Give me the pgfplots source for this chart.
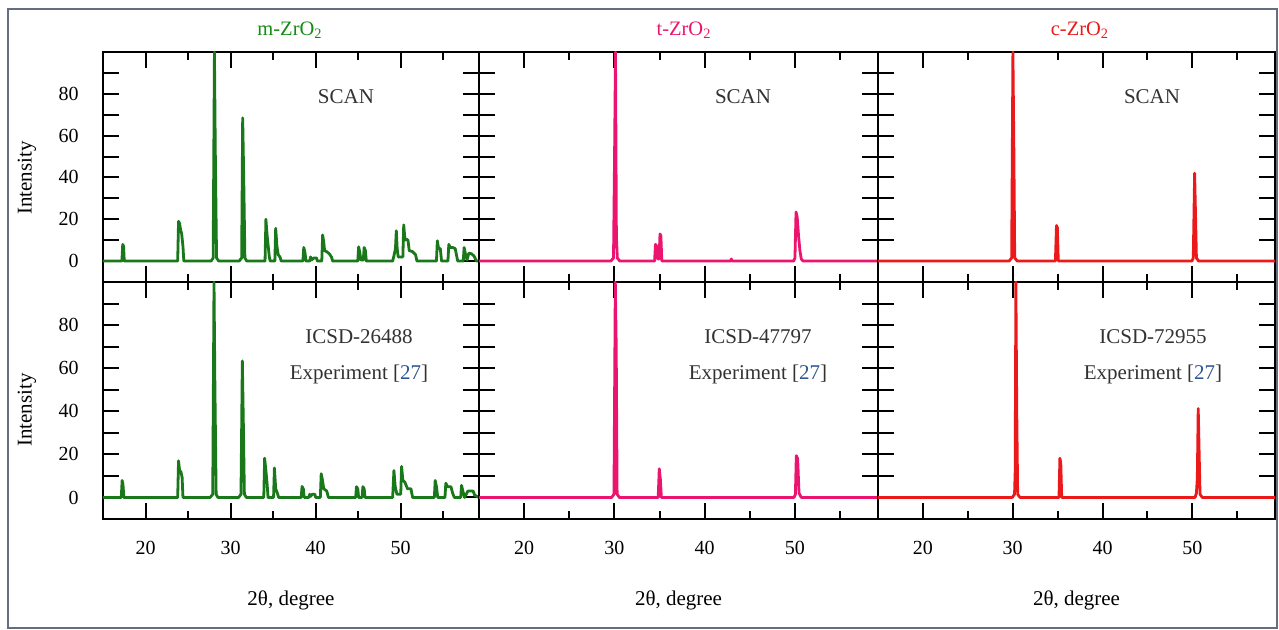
\documentclass[border=0pt]{standalone}
\usepackage{fontspec}
\setmainfont{Liberation Serif}
\usepackage{pgfplots}
\pgfplotsset{compat=1.18}
\usepackage{pgfplotstable}

\definecolor{mgreen}{RGB}{25,120,25}
\definecolor{tgreen}{RGB}{20,140,20}
\definecolor{tpink}{RGB}{235,20,110}
\definecolor{cred}{RGB}{235,25,25}
\definecolor{refblue}{RGB}{45,85,150}
\definecolor{txtgray}{RGB}{50,50,50}
\definecolor{borderc}{RGB}{100,110,130}

\pgfplotstableread{
x y
15 0
17.22 0
17.32 8
17.42 7
17.5 0
23.78 0
23.88 19
24.0 18
24.12 15
24.25 13
24.4 7
24.5 0
27.7 0
27.95 1.5
28.1 100
28.2 53
28.35 1.5
28.6 0
31.0 0
31.3 1.5
31.42 68.5
31.55 38
31.68 1.5
31.9 0
34.05 0
34.15 20
34.3 12
34.45 6
34.55 2
34.65 0
35.2 0
35.3 15.7
35.45 7
35.6 3
35.8 2
35.95 0
38.5 0
38.6 6.5
38.75 4
38.85 0
39.3 0
39.4 2
39.5 0.5
39.8 1.5
40.1 1.5
40.2 0
40.72 0
40.82 12.5
40.95 9
41.05 5
41.3 4.5
41.6 3.5
41.85 2
42.0 0
44.95 0
45.05 6.8
45.2 4
45.3 0.5
45.6 0.5
45.7 6.5
45.85 5
45.95 0
49.05 0
49.2 2.5
49.38 6
49.48 14.5
49.58 6
49.7 2
50.25 2
50.35 17.3
50.5 10
50.65 10.5
50.85 10
51.0 5
51.4 4.5
51.75 3
51.9 0
54.2 0
54.3 9.7
54.45 6
54.65 6
54.8 0
55.55 0
55.65 8
55.8 6.5
56.1 6.5
56.4 6
56.6 2
56.7 0
57.35 0
57.45 6.5
57.6 3.5
57.8 0.5
58.0 3.8
58.3 3.5
58.6 2.5
58.9 0
59.2 0
}\mscan

\pgfplotstableread{
x y
15 0
17.15 0
17.25 7.9
17.35 6
17.45 0
23.78 0
23.88 17
24.0 12.5
24.15 12
24.3 9.4
24.4 0
27.6 0
27.9 1.5
28.05 100
28.15 53.4
28.3 1.5
28.5 0
30.95 0
31.22 1.5
31.38 63.4
31.5 34
31.62 1.5
31.85 0
33.9 0
34.0 18.2
34.15 12.5
34.3 6
34.4 0
35.05 0
35.15 13.7
35.3 4
35.5 2
35.65 0
38.3 0
38.4 5.1
38.55 4
38.65 0
39.2 0
39.3 1.5
39.4 0.5
39.6 1.5
39.9 1.5
40.0 0
40.55 0
40.65 11
40.8 8
40.95 4
41.3 3
41.5 0
44.7 0
44.8 5
44.95 4
45.05 0
45.45 0
45.55 5
45.7 4
45.8 0
49.05 0
49.2 12.5
49.35 5
49.55 1.5
50.0 1.5
50.1 14.4
50.25 8
50.5 7
50.8 4
51.2 4
51.4 0
53.95 0
54.05 7.9
54.2 5
54.35 0
55.2 0
55.3 6.6
55.5 5
55.9 5
56.1 2
56.3 0
57.05 0
57.15 5.6
57.3 3
57.5 0
57.9 3
58.5 3
58.7 1
59.2 0
}\micsd

\pgfplotstableread{
x y
15 0
29.6 0
29.9 1.5
30.02 52
30.12 100
30.22 12
30.32 1.5
30.6 0
34.45 0
34.55 8
34.7 7
34.8 1
34.95 1
35.05 13
35.15 12
35.25 0
42.85 0
42.95 1
43.05 0
49.85 0
50.0 1.5
50.12 23.5
50.25 21
50.4 12
50.55 5
50.7 1
50.9 0
59.2 0
}\tscan

\pgfplotstableread{
x y
15 0
29.7 0
29.95 1.5
30.1 100
30.2 70
30.3 1.5
30.55 0
34.85 0
34.97 13.3
35.1 8
35.2 0
49.9 0
50.05 1.5
50.15 19.4
50.3 18
50.45 2
50.7 0
59.2 0
}\ticsd

\pgfplotstableread{
x y
15 0
29.6 0
29.88 1.5
30.02 100
30.12 56
30.22 1.5
30.5 0
34.75 0
34.87 17
34.97 16
35.07 0
49.95 0
50.1 1.5
50.25 42
50.35 22
50.45 1.5
50.7 0
59.2 0
}\cscan

\pgfplotstableread{
x y
15 0
29.95 0
30.2 1.5
30.27 11.7
30.35 100
30.45 38.7
30.55 1.5
30.8 0
35.15 0
35.25 18.2
35.35 16
35.45 0
50.3 0
50.45 2
50.55 9
50.65 41.3
50.75 21.4
50.85 1.5
51.1 0
59.2 0
}\cicsd

\pgfplotsset{
  panel/.style={
    scale only axis,
    anchor=south west,
    xmin=15, xmax=59.2, ymin=-10, ymax=100,
    axis line style={line width=1pt, black},
    tick style={line width=1pt, black},
    tick align=inside,
    xtick pos=both, ytick pos=both,
    xtick={20,30,40,50}, minor xtick={25,35,45,55},
    ytick={0,10,20,30,40,50,60,70,80,90},
    major tick length=8pt, minor tick length=4pt,
    xticklabels={}, yticklabels={},
    /pgf/number format/assume math mode=true,
    ticklabel style={font=\fontsize{10}{12}\selectfont, text=black},
    yticklabel style={xshift=-8.7pt},
    xticklabel style={yshift=-7.7pt},
  },
  ylab/.style={yticklabels={0,,20,,40,,60,,80,}},
  xlab/.style={xticklabels={20,30,40,50}},
  toprow/.style={height=115pt},
  botrow/.style={height=118.5pt},
  datal/.style={line width=1.4pt, line join=round},
}

\begin{document}
\begin{tikzpicture}
\useasboundingbox (0,0) rectangle (639.5pt,315pt);
\draw[borderc, line width=0.7pt] (4pt,1pt) rectangle (638.5pt,310.5pt);

% top row
\begin{axis}[panel, toprow, ylab, width=188pt, at={(51.5pt,174pt)}]
\addplot[datal, mgreen] table[x=x,y=y] {\mscan};
\end{axis}
\begin{axis}[panel, toprow, width=199.5pt, at={(239.5pt,174pt)}]
\addplot[datal, tpink] table[x=x,y=y] {\tscan};
\end{axis}
\begin{axis}[panel, toprow, width=198.5pt, at={(439pt,174pt)}]
\addplot[datal, cred] table[x=x,y=y] {\cscan};
\end{axis}

% bottom row
\begin{axis}[panel, botrow, ylab, xlab, width=188pt, at={(51.5pt,55.5pt)}]
\addplot[datal, mgreen] table[x=x,y=y] {\micsd};
\end{axis}
\begin{axis}[panel, botrow, xlab, width=199.5pt, at={(239.5pt,55.5pt)}]
\addplot[datal, tpink] table[x=x,y=y] {\ticsd};
\end{axis}
\begin{axis}[panel, botrow, xlab, width=198.5pt, at={(439pt,55.5pt)}]
\addplot[datal, cred] table[x=x,y=y] {\cicsd};
\end{axis}

% titles
\begin{scope}[every node/.style={font=\fontsize{10.25}{12}\selectfont, anchor=base}]
\node[text=tgreen] at (145pt,297.25pt) {m-ZrO\textsubscript{2}};
\node[text=tpink] at (342pt,297.25pt) {t-ZrO\textsubscript{2}};
\node[text=cred] at (540pt,297.25pt) {c-ZrO\textsubscript{2}};
\end{scope}

% inner labels
\begin{scope}[every node/.style={font=\fontsize{10.5}{12}\selectfont, anchor=base, text=txtgray}]
\node at (173pt,263.35pt) {SCAN};
\node at (371.5pt,263.35pt) {SCAN};
\node at (576pt,263.35pt) {SCAN};
\node at (179.5pt,143.25pt) {ICSD-26488};
\node at (379pt,143.25pt) {ICSD-47797};
\node at (576.5pt,143.25pt) {ICSD-72955};
\node at (179.5pt,125pt) {Experiment [\textcolor{refblue}{27}]};
\node at (379pt,125pt) {Experiment [\textcolor{refblue}{27}]};
\node at (576.5pt,125pt) {Experiment [\textcolor{refblue}{27}]};
\end{scope}

% axis labels
\begin{scope}[every node/.style={font=\fontsize{10.5}{12}\selectfont, text=black}]
\node[rotate=90] at (13.5pt,226pt) {Intensity};
\node[rotate=90] at (13.5pt,110pt) {Intensity};
\node at (145.5pt,15pt) {2θ, degree};
\node at (339.25pt,15pt) {2θ, degree};
\node at (538.25pt,15pt) {2θ, degree};
\end{scope}
\end{tikzpicture}
\end{document}
